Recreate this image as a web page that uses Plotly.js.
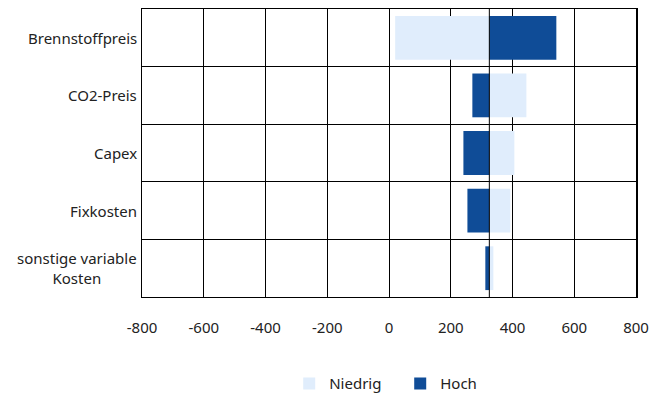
<!DOCTYPE html>
<html>
<head>
<meta charset="utf-8">
<script src="https://cdn.plot.ly/plotly-3.0.1.min.js"></script>
<style>html,body{margin:0;padding:0;background:#fff;}#chart{width:661px;height:394px;}</style>
</head>
<body>
<div id="chart"></div>
<script>
const categories = ["Brennstoffpreis", "CO2-Preis", "Capex", "Fixkosten", "sonstige variable<br>Kosten"];
const baseValue = 325;
const niedrig = [20, 445, 406, 393, 338];
const hoch = [542, 270, 241, 254, 312];
const xTicks = [-800, -600, -400, -200, 0, 200, 400, 600, 800];

const font = "'Noto Sans', 'Open Sans', sans-serif";

const traces = [
  {
    type: 'bar', orientation: 'h', name: 'Niedrig',
    y: categories,
    base: niedrig.map(() => baseValue),
    x: niedrig.map(v => v - baseValue),
    marker: {color: '#e0edfc'},
    hoverinfo: 'skip'
  },
  {
    type: 'bar', orientation: 'h', name: 'Hoch',
    y: categories,
    base: hoch.map(() => baseValue),
    x: hoch.map(v => v - baseValue),
    marker: {color: '#0f4c97'},
    hoverinfo: 'skip'
  }
];

const annotations = categories.map(c => ({
  xref: 'paper', yref: 'y', x: 0, y: c, xanchor: 'right', yanchor: 'middle',
  xshift: -3, text: c, showarrow: false, align: 'center',
  font: {family: font, size: 15, color: '#222'}
}));

const layout = {
  width: 661, height: 394,
  margin: {l: 142, r: 25, t: 9, b: 97, autoexpand: false},
  paper_bgcolor: '#fff', plot_bgcolor: '#fff',
  barmode: 'overlay', bargap: 0.24,
  showlegend: true,
  legend: {orientation: 'h', x: 0.298, xanchor: 'left', yref: 'container', y: 0.026, yanchor: 'middle',
           entrywidth: 66, entrywidthmode: 'pixels',
           font: {family: font, size: 15, color: '#222'}, traceorder: 'normal'},
  xaxis: {
    range: [-800, 800], tickvals: xTicks, ticktext: xTicks.map(String),
    showgrid: true, gridcolor: '#000', gridwidth: 1, zeroline: false,
    showline: true, linecolor: '#000', linewidth: 1, mirror: true,
    ticks: '', ticklabelstandoff: 17, automargin: false,
    tickfont: {family: font, size: 15, color: '#222'}
  },
  yaxis: {
    type: 'category', range: [4.5, -0.5], tickson: 'boundaries',
    showticklabels: false, ticks: '',
    showgrid: true, gridcolor: '#000', gridwidth: 1, zeroline: false,
    showline: true, linecolor: '#000', linewidth: 1.5, mirror: true
  },
  shapes: [{type: 'line', xref: 'x', yref: 'paper', x0: baseValue, x1: baseValue, y0: 0, y1: 1,
            line: {color: '#000', width: 1}}],
  annotations: annotations
};

Plotly.newPlot('chart', traces, layout, {displayModeBar: false, staticPlot: true});
</script>
</body>
</html>
